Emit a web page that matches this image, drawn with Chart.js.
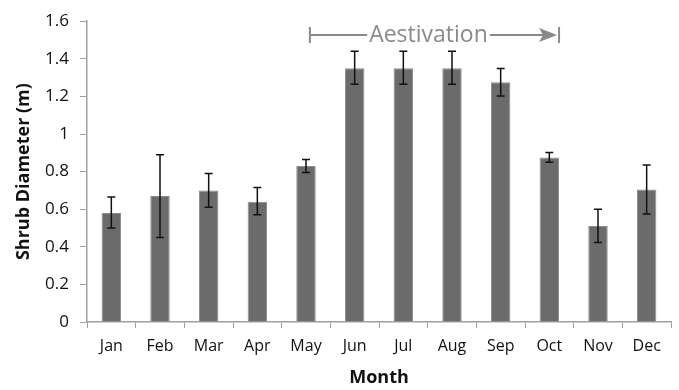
<!DOCTYPE html>
<html>
<head>
<meta charset="utf-8">
<script src="https://cdn.jsdelivr.net/npm/chart.js@4"></script>
<style>
  html, body { margin: 0; padding: 0; background: #fff; }
  #wrap { width: 679px; height: 390px; }
</style>
</head>
<body>
<div id="wrap"><canvas id="chart" width="679" height="390"></canvas></div>
<script>
// Data
const months = ["Jan", "Feb", "Mar", "Apr", "May", "Jun", "Jul", "Aug", "Sep", "Oct", "Nov", "Dec"];
const diameter = [0.58, 0.67, 0.70, 0.64, 0.83, 1.35, 1.35, 1.35, 1.275, 0.875, 0.51, 0.705];
const errUpper = [0.085, 0.22, 0.09, 0.075, 0.035, 0.09, 0.09, 0.09, 0.073, 0.027, 0.09, 0.13];
const errLower = [0.08, 0.22, 0.09, 0.07, 0.035, 0.085, 0.085, 0.085, 0.073, 0.025, 0.087, 0.13];
const yTicks = [0, 0.2, 0.4, 0.6, 0.8, 1, 1.2, 1.4, 1.6];

const axisGrey = '#a0a0a0';
const fontFamily = "'Open Sans', 'Liberation Sans', sans-serif";

// Draws the error bars on each bar
const errorBars = {
    id: 'errorBars',
    afterDatasetsDraw(chart) {
        const ctx = chart.ctx;
        const y = chart.scales.y;
        const meta = chart.getDatasetMeta(0);
        ctx.save();
        ctx.strokeStyle = '#111';
        ctx.lineWidth = 1.5;
        meta.data.forEach((bar, i) => {
            const top = y.getPixelForValue(diameter[i] + errUpper[i]);
            const bot = y.getPixelForValue(diameter[i] - errLower[i]);
            const x = bar.x;
            ctx.beginPath();
            ctx.moveTo(x, top); ctx.lineTo(x, bot);
            ctx.moveTo(x - 4, top); ctx.lineTo(x + 4, top);
            ctx.moveTo(x - 4, bot); ctx.lineTo(x + 4, bot);
            ctx.stroke();
        });
        ctx.restore();
    }
};

// "Aestivation" bracket arrow from May to Oct
const aestivation = {
    id: 'aestivation',
    afterDraw(chart) {
        const ctx = chart.ctx;
        const x = chart.scales.x;
        const step = x.getPixelForValue(1) - x.getPixelForValue(0);
        const x0 = x.getPixelForValue(4) + step * 0.08;
        const x1 = x.getPixelForValue(9) + step * 0.2;
        const yy = 35;
        ctx.save();
        ctx.strokeStyle = '#8a8a8a';
        ctx.fillStyle = '#8a8a8a';
        ctx.lineWidth = 2;
        ctx.font = "23px " + fontFamily;
        ctx.textAlign = 'center';
        ctx.textBaseline = 'middle';
        const label = 'Aestivation';
        const tw = ctx.measureText(label).width;
        const xm = (x0 + x1) / 2 - 6;
        ctx.fillText(label, xm, yy);
        ctx.beginPath();
        ctx.moveTo(x0, yy - 8); ctx.lineTo(x0, yy + 8);
        ctx.moveTo(x0, yy); ctx.lineTo(xm - tw / 2 - 2, yy);
        ctx.moveTo(xm + tw / 2 + 2, yy); ctx.lineTo(x1 - 14, yy);
        ctx.moveTo(x1, yy - 8); ctx.lineTo(x1, yy + 8);
        ctx.stroke();
        ctx.beginPath();
        ctx.moveTo(x1 - 2, yy);
        ctx.lineTo(x1 - 20, yy - 7);
        ctx.lineTo(x1 - 16, yy);
        ctx.lineTo(x1 - 20, yy + 7);
        ctx.closePath();
        ctx.fill();
        ctx.restore();
    }
};

new Chart(document.getElementById('chart'), {
    type: 'bar',
    data: {
        labels: months,
        datasets: [{
            data: diameter,
            backgroundColor: '#6b6b6b',
            borderColor: '#8c8c8c',
            borderWidth: 1,
            barPercentage: 0.8,
            categoryPercentage: 0.5
        }]
    },
    options: {
        responsive: false,
        animation: false,
        layout: { padding: { top: 17, right: 8, left: 13, bottom: 0 } },
        plugins: { legend: { display: false }, tooltip: { enabled: false } },
        scales: {
            x: {
                grid: { display: true, drawOnChartArea: false, offset: true, tickLength: 6, color: axisGrey },
                border: { color: axisGrey, width: 1.5 },
                ticks: { color: '#111', font: { family: fontFamily, size: 16 }, padding: 9, maxRotation: 0 },
                title: { display: true, text: 'Month', color: '#111', font: { family: fontFamily, size: 18, weight: 'bold' }, padding: { top: 2, bottom: 1 } },
                afterFit(s) { s.height = 68; }
            },
            y: {
                min: 0, max: 1.6,
                afterBuildTicks(s) { s.ticks = yTicks.map(v => ({ value: v })); },
                grid: { display: true, drawOnChartArea: false, tickLength: 7, color: axisGrey },
                border: { color: axisGrey, width: 1.5 },
                ticks: { color: '#111', font: { family: fontFamily, size: 17 }, padding: 11,
                    callback: v => String(v) },
                title: { display: true, text: 'Shrub Diameter (m)', color: '#111', font: { family: fontFamily, size: 18, weight: 'bold' }, padding: { top: 0, bottom: 2 } },
                afterFit(s) { s.width = 74; }
            }
        }
    },
    plugins: [errorBars, aestivation]
});
</script>
</body>
</html>
